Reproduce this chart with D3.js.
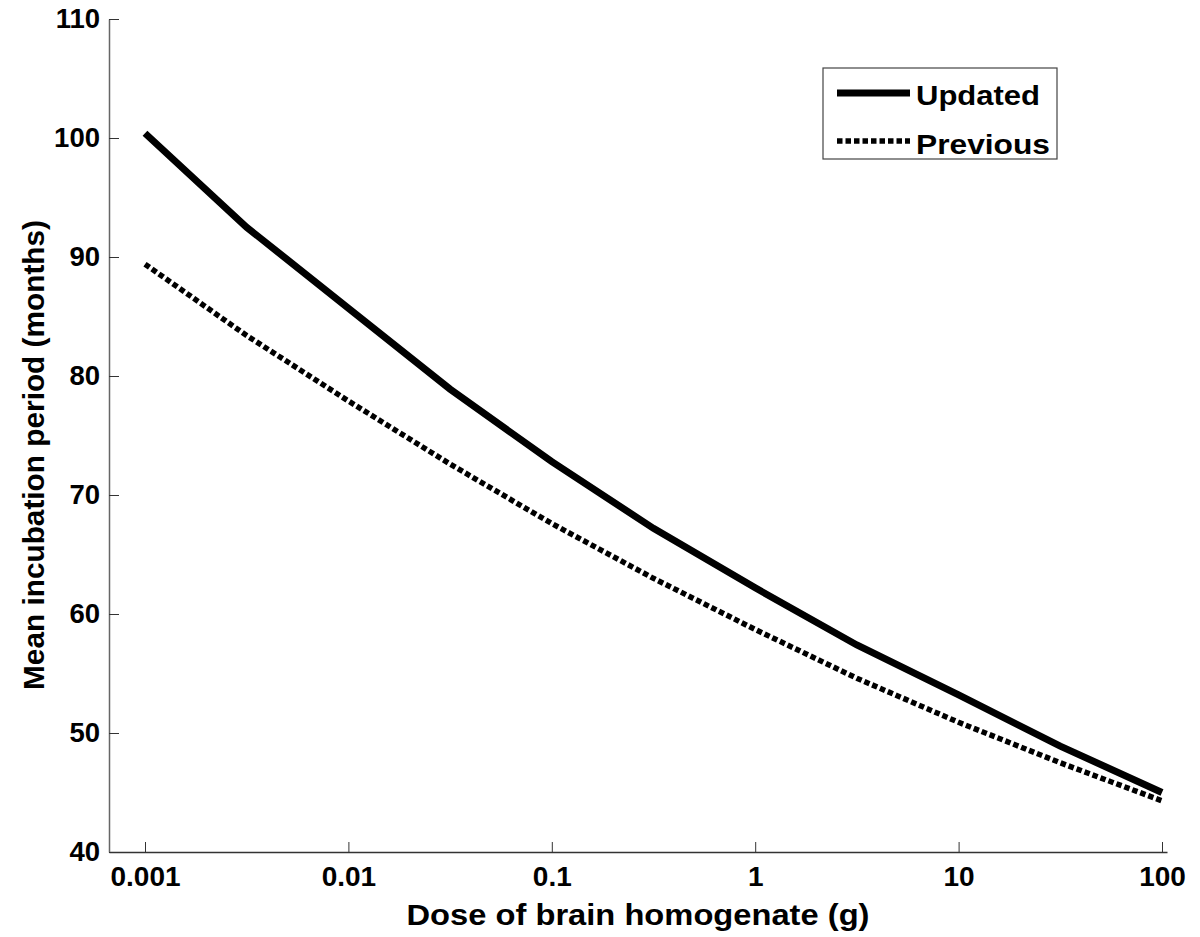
<!DOCTYPE html>
<html>
<head>
<meta charset="utf-8">
<script src="https://cdn.jsdelivr.net/npm/d3@7"></script>
<style>
  body { margin: 0; background: #fff; }
  svg { display: block; }
  text { font-family: "Liberation Sans", Arial, sans-serif; font-weight: bold; fill: #000; }
</style>
</head>
<body>
<svg id="chart" width="1200" height="937"></svg>
<script>
// Data
const doses = [0.001, 0.00316, 0.01, 0.0316, 0.1, 0.316, 1, 3.16, 10, 31.6, 100];
const updated = [100.4, 92.5, 85.7, 78.9, 72.8, 67.2, 62.2, 57.4, 53.2, 48.9, 45.0];
const previous = [89.4, 83.4, 77.9, 72.6, 67.6, 63.0, 58.7, 54.6, 50.9, 47.5, 44.3];
const xTicks = [0.001, 0.01, 0.1, 1, 10, 100];
const xTickLabels = ["0.001", "0.01", "0.1", "1", "10", "100"];
const yTicks = [40, 50, 60, 70, 80, 90, 100, 110];
const seriesNames = ["Updated", "Previous"];

(function () {
const svg = d3.select("#chart");
const mLeft = 109, mRight = 1167, mTop = 19, mBottom = 852;

const x = d3.scaleLog()
  .domain([Math.pow(10, -3 - 36 / 203.4), Math.pow(10, 2 + 5 / 203.4)])
  .range([mLeft, mRight]);
const y = d3.scaleLinear().domain([40, 110]).range([mBottom, mTop]);

function stretch(sel, factor) {
  sel.each(function () {
    const len = this.getComputedTextLength();
    d3.select(this).attr("textLength", len * factor).attr("lengthAdjust", "spacingAndGlyphs");
  });
}

// Axes
const xAxis = d3.axisBottom(x).tickValues(xTicks).tickFormat((d, i) => xTickLabels[i])
  .tickSizeInner(-10).tickSizeOuter(0).tickPadding(14);
const gx = svg.append("g").attr("transform", `translate(0,${mBottom})`).call(xAxis);
gx.select(".domain").attr("stroke", "#333").attr("stroke-width", 1.5);
gx.selectAll(".tick line").attr("stroke", "#333").attr("stroke-width", 1);
gx.selectAll(".tick text").attr("font-size", 28).attr("font-family", "Liberation Sans, Arial, sans-serif").attr("font-weight", "bold").attr("fill", "#000");

const yAxis = d3.axisLeft(y).tickValues(yTicks).tickFormat(d3.format("d"))
  .tickSizeInner(-10).tickSizeOuter(0).tickPadding(9);
const gy = svg.append("g").attr("transform", `translate(${mLeft},0)`).call(yAxis);
gy.select(".domain").attr("stroke", "#666").attr("stroke-width", 1.5);
gy.selectAll(".tick line").attr("stroke", "#333").attr("stroke-width", 1);
gy.selectAll(".tick text").attr("font-size", 27.5).attr("font-family", "Liberation Sans, Arial, sans-serif").attr("font-weight", "bold").attr("fill", "#000");

// Axis titles
svg.append("text").attr("x", (mLeft + mRight) / 2).attr("y", 925)
  .attr("text-anchor", "middle").attr("font-size", 29.5)
  .attr("textLength", 463).attr("lengthAdjust", "spacingAndGlyphs")
  .text("Dose of brain homogenate (g)");
svg.append("text").attr("transform", `translate(44,455) rotate(-90)`)
  .attr("text-anchor", "middle").attr("font-size", 29.5)
  .attr("textLength", 470).attr("lengthAdjust", "spacingAndGlyphs")
  .text("Mean incubation period (months)");

// Lines
const line = d3.line().x(d => x(d[0])).y(d => y(d[1]));
svg.append("path").datum(doses.map((d, i) => [d, previous[i]]))
  .attr("d", line).attr("fill", "none").attr("stroke", "#000")
  .attr("stroke-width", 5.5).attr("stroke-dasharray", "5.5,3");
svg.append("path").datum(doses.map((d, i) => [d, updated[i]]))
  .attr("d", line).attr("fill", "none").attr("stroke", "#000")
  .attr("stroke-width", 7);

// Legend
const lg = svg.append("g");
lg.append("rect").attr("x", 823).attr("y", 68).attr("width", 234).attr("height", 91)
  .attr("fill", "#fff").attr("stroke", "#444").attr("stroke-width", 1.2);
const rows = [
  { name: seriesNames[0], ly: 93, ty: 105, dash: null, w: 7, len: 124 },
  { name: seriesNames[1], ly: 141, ty: 154, dash: "5.5,3", w: 5.5, len: 134 }
];
rows.forEach(r => {
  lg.append("line").attr("x1", 837).attr("x2", 910).attr("y1", r.ly).attr("y2", r.ly)
    .attr("stroke", "#000").attr("stroke-width", r.w).attr("stroke-dasharray", r.dash);
  lg.append("text").attr("x", 916).attr("y", r.ty).attr("font-size", 28)
    .attr("textLength", r.len).attr("lengthAdjust", "spacingAndGlyphs").text(r.name);
});
})();
</script>
</body>
</html>
